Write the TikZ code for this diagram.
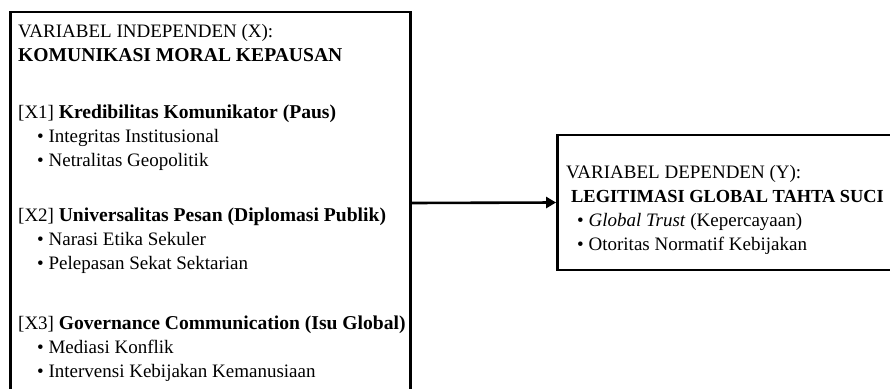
\documentclass[tikz,border=0pt]{standalone}
\usepackage{fontspec}
\setmainfont{Liberation Serif}
\usetikzlibrary{arrows.meta}
\begin{document}
\begin{tikzpicture}[x=1pt,y=-1pt,varbox/.style={draw=black,line width=2.8pt,inner sep=0pt},txt/.style={anchor=base west,inner sep=0pt,font=\fontsize{19}{24}\selectfont},hasinfluence/.style={black,line width=2.6pt,-{Triangle[length=10pt,width=11pt]}}]
\useasboundingbox (0,0) rectangle (890,388);
\def\lineH{24};
\def\indepX{18}
\def\indepB{37}
\def\depX{566}
\def\depB{178}
\def\bfL{\fontsize{19.6}{24}\selectfont\bfseries}
\def\bfR{\fontsize{18.4}{24}\selectfont\bfseries}

\node[varbox,minimum width=400pt,minimum height=382pt] (indep) at (210.5,203) {};
\node[varbox,minimum width=360pt,minimum height=135pt] (dep) at (737.5,202.5) {};

\node[txt] (indepL) at (\indepX,\indepB) {VARIABEL INDEPENDEN (X):};
\node[txt] (indepT) at (\indepX,\indepB+\lineH) {{\bfL KOMUNIKASI MORAL KEPAUSAN}};

\node[txt] (indepG1) at (\indepX,\indepB+3.4*\lineH) {[X1] {\bfL Kredibilitas Komunikator (Paus)}};
\node[txt] (indepG1A1) at (\indepX+19,\indepB+4.4*\lineH) {\textbullet\ Integritas Institusional};
\node[txt] (indepG1A2) at (\indepX+19,\indepB+5.4*\lineH) {\textbullet\ Netralitas Geopolitik};

\node[txt] (indepG2) at (\indepX,\indepB+7.7*\lineH) {[X2] {\bfL Universalitas Pesan (Diplomasi Publik)}};
\node[txt] (indepG2A1) at (\indepX+19,\indepB+8.7*\lineH) {\textbullet\ Narasi Etika Sekuler};
\node[txt] (indepG2A2) at (\indepX+19,\indepB+9.7*\lineH) {\textbullet\ Pelepasan Sekat Sektarian};

\node[txt] (indepG3) at (\indepX,\indepB+12.2*\lineH) {[X3] {\bfL Governance Communication (Isu Global)}};
\node[txt] (indepG3A1) at (\indepX+19,\indepB+13.2*\lineH) {\textbullet\ Mediasi Konflik};
\node[txt] (indepG3A2) at (\indepX+19,\indepB+14.2*\lineH) {\textbullet\ Intervensi Kebijakan Kemanusiaan};

\node[txt] (depL) at (\depX,\depB) {VARIABEL DEPENDEN (Y):};
\node[txt] (depT) at (\depX+5,\depB+\lineH) {{\bfR LEGITIMASI GLOBAL TAHTA SUCI}};
\node[txt] (depA1) at (\depX+11,\depB+2*\lineH) {\textbullet\ \textit{Global Trust} (Kepercayaan)};
\node[txt] (depA2) at (\depX+11,\depB+3*\lineH) {\textbullet\ Otoritas Normatif Kebijakan};

\draw[hasinfluence] (indep.east) -- (dep.west);
\end{tikzpicture}
\end{document}
